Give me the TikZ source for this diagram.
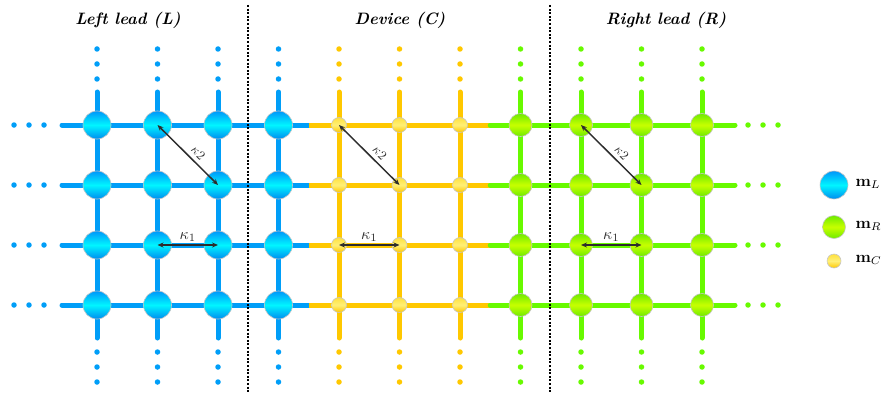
\documentclass[tikz,border=0pt]{standalone}
\usetikzlibrary{arrows.meta}
\definecolor{leadL}{RGB}{0,158,248}
\definecolor{devC}{RGB}{255,200,0}
\definecolor{leadR}{RGB}{104,250,0}
\definecolor{hop}{RGB}{45,45,45}
\newcommand{\bigmath}[2]{\scalebox{#1}{$#2$}}
\begin{document}
\begin{tikzpicture}[x=1pt,y=-1pt,
  bond/.style={line width=5pt,line cap=round},
  ldot/.style={circle,inner sep=0pt,minimum size=5.5pt},
  ball/.style={circle,inner sep=0pt,draw=gray!45,line width=0.6pt},
  ballL/.style={ball,minimum size=28pt,
    top color={rgb,255:red,0;green,150;blue,250},bottom color={rgb,255:red,0;green,140;blue,240},
    middle color={rgb,255:red,0;green,245;blue,255}},
  ballR/.style={ball,minimum size=23pt,
    top color={rgb,255:red,110;green,235;blue,0},bottom color={rgb,255:red,110;green,235;blue,0},
    middle color={rgb,255:red,200;green,255;blue,0}},
  ballC/.style={ball,minimum size=15pt,
    top color={rgb,255:red,255;green,225;blue,60},bottom color={rgb,255:red,255;green,200;blue,0},
    middle color={rgb,255:red,255;green,240;blue,120}},
  hopping/.style={hop,line width=1.5pt,{Stealth[length=6pt,width=5pt]}-{Stealth[length=6pt,width=5pt]}},
  region/.style={font=\fontsize{16.5}{18}\selectfont\bfseries\itshape},
  kdiag/.style={sloped,above=3pt,pos=0.57,inner sep=1pt,text=hop},
  kside/.style={above=1.5pt,inner sep=1pt,text=hop},
  legtext/.style={anchor=west},
  border/.style={line width=2pt,dash pattern=on 2pt off 1.6pt}]
\useasboundingbox (0,0) rectangle (882,393);

% lattice sites: 11 columns, 4 rows
\foreach \c in {1,...,11}{
  \foreach \r in {1,...,4}{
    \coordinate (p-\c-\r) at ({97+60.5*(\c-1)},{125+60*(\r-1)});
  }
}
% region boundaries on each row and free ends of the bonds
\foreach \r in {1,...,4}{
  \coordinate (jl-\r) at (308.75,{125+60*(\r-1)});
  \coordinate (jr-\r) at (490.25,{125+60*(\r-1)});
  \coordinate (el-\r) at (62,{125+60*(\r-1)});
  \coordinate (er-\r) at (735,{125+60*(\r-1)});
}
\foreach \c in {1,...,11}{
  \coordinate (et-\c) at ({97+60.5*(\c-1)},92);
  \coordinate (eb-\c) at ({97+60.5*(\c-1)},338);
}

% vertical bonds
\foreach \c/\col in {1/leadL,2/leadL,3/leadL,4/leadL,5/devC,6/devC,7/devC,8/leadR,9/leadR,10/leadR,11/leadR}{
  \draw[bond,\col] (et-\c) -- (eb-\c);
  \foreach \y in {49,64,79,352,367,382}
    \node[ldot,fill=\col] (vd-\c-\y) at ({97+60.5*(\c-1)},\y) {};
}
% horizontal bonds
\foreach \r in {1,...,4}{
  \draw[bond,leadL] (el-\r) -- (jl-\r);
  \draw[line width=5pt,devC] (jl-\r) -- (jr-\r);
  \draw[bond,leadR] (jr-\r) -- (er-\r);
  \draw[line width=5pt,leadL] (jl-\r) -- ++(-1,0);
  \foreach \x in {14,29,44}
    \node[ldot,fill=leadL] (hl-\r-\x) at (\x,{125+60*(\r-1)}) {};
  \foreach \x in {748,763,778}
    \node[ldot,fill=leadR] (hr-\r-\x) at (\x,{125+60*(\r-1)}) {};
}

% boundaries between leads and device
\coordinate (b1t) at (248,5);   \coordinate (b1b) at (248,393);
\coordinate (b2t) at (550,5);   \coordinate (b2b) at (550,393);
\draw[border] (b1t) -- (b1b);
\draw[border] (b2t) -- (b2b);

% sites
\foreach \r in {1,...,4}{
  \foreach \c in {1,...,4} \node[ballL] (n-\c-\r) at (p-\c-\r) {};
  \foreach \c in {5,...,7} \node[ballC] (n-\c-\r) at (p-\c-\r) {};
  \foreach \c in {8,...,11} \node[ballR] (n-\c-\r) at (p-\c-\r) {};
}

% couplings
\draw[hopping] (n-2-1.center) -- node[kdiag] {\bigmath{1.3}{\kappa2}} (n-3-2.center);
\draw[hopping] (n-5-1.center) -- node[kdiag] {\bigmath{1.3}{\kappa2}} (n-6-2.center);
\draw[hopping] (n-9-1.center) -- node[kdiag] {\bigmath{1.3}{\kappa2}} (n-10-2.center);
\draw[hopping] (n-2-3.center) -- node[kside] {\bigmath{1.6}{\kappa_1}} (n-3-3.center);
\draw[hopping] (n-5-3.center) -- node[kside] {\bigmath{1.6}{\kappa_1}} (n-6-3.center);
\draw[hopping] (n-9-3.center) -- node[kside] {\bigmath{1.6}{\kappa_1}} (n-10-3.center);

% region titles
\node[region] (tL) at (128,20) {Left lead (L)};
\node[region] (tC) at (400,20) {Device (C)};
\node[region] (tR) at (666,20) {Right lead (R)};

% legend
\node[ballL] (kL) at (834,185) {};
\node[ballR] (kR) at (834,227) {};
\node[ballC,minimum size=14pt] (kC) at (834,261) {};
\node[legtext] (tkL) at (852,184) {\bigmath{1.6}{\mathbf{m}_L}};
\node[legtext] (tkR) at (852,226) {\bigmath{1.6}{\mathbf{m}_R}};
\node[legtext] (tkC) at (852,260) {\bigmath{1.6}{\mathbf{m}_C}};
\end{tikzpicture}
\end{document}
